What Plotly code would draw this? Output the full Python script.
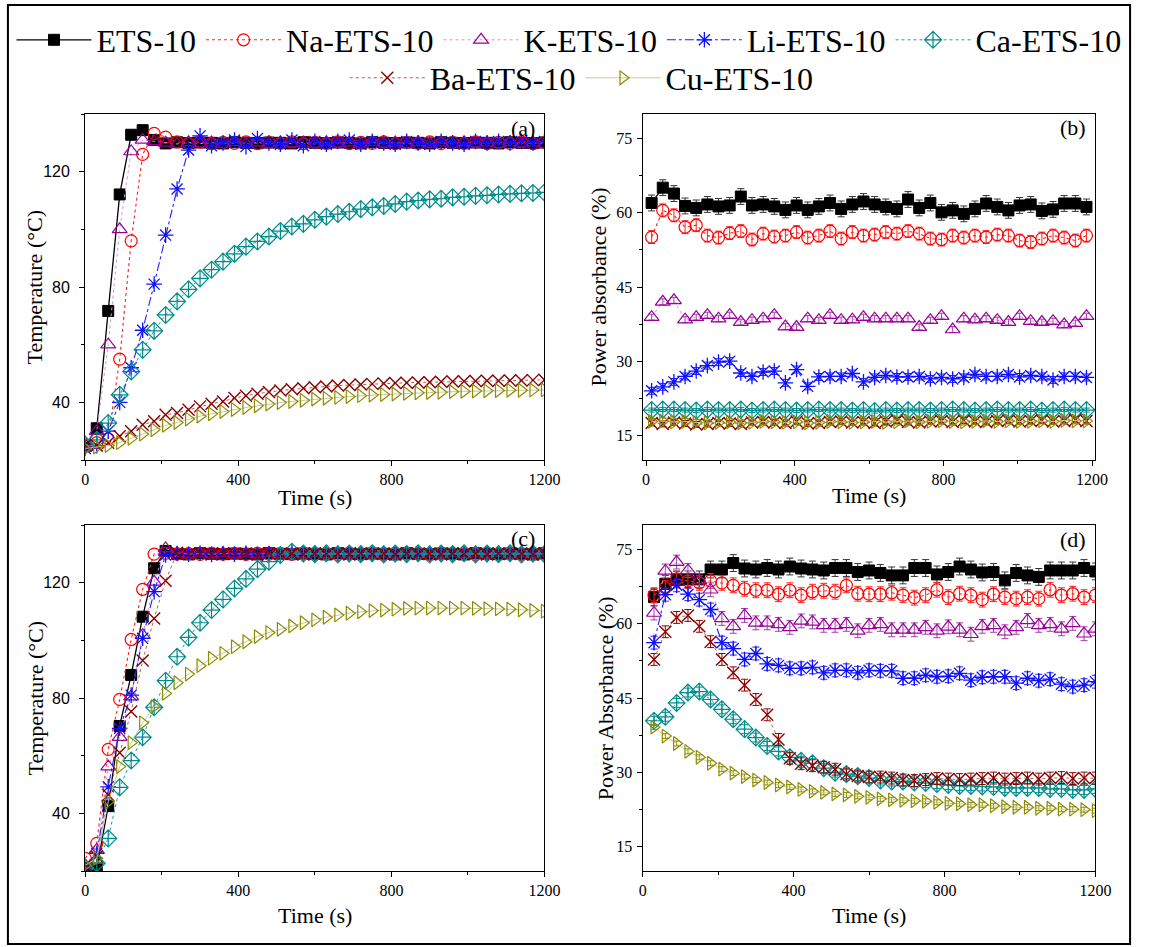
import plotly.graph_objects as go

W, H = 1150, 947

# ---------------- data ----------------
names = ["ETS-10", "Na-ETS-10", "K-ETS-10", "Li-ETS-10", "Ca-ETS-10", "Ba-ETS-10", "Cu-ETS-10"]

t_a = list(range(0, 1201, 30))      # panel (a) time (s)
t_b = list(range(15, 1200, 30))     # panel (b) time (s)
t_c = list(range(0, 1201, 30))      # panel (c) time (s)
t_d = list(range(30, 1201, 30))     # panel (d) time (s)

# (a) temperature
ets_a = [25.0, 31.0, 71.7, 112.1, 132.8, 134.4, 131.0, 129.8, 130.2, 129.9, 130.1, 130.0, 129.8, 130.2, 130.0, 129.9, 130.1, 130.0, 129.8, 130.2, 130.0, 129.9, 130.1, 130.0, 129.8, 130.2, 130.0, 129.9, 130.1, 130.0, 129.8, 130.2, 130.0, 129.9, 130.1, 130.0, 129.8, 130.2, 130.0, 129.9, 130.1]
na_a = [25.0, 26.0, 27.3, 55.0, 96.0, 126.0, 133.3, 132.0, 130.3, 129.8, 130.3, 129.7, 130.2, 129.8, 130.3, 129.7, 130.2, 129.8, 130.3, 129.7, 130.2, 129.8, 130.3, 129.7, 130.2, 129.8, 130.3, 129.7, 130.2, 129.8, 130.3, 129.7, 130.2, 129.8, 130.3, 129.7, 130.2, 129.8, 130.3, 129.7, 130.2]
k_a = [26.0, 30.0, 60.0, 100.0, 127.0, 131.0, 130.5, 130.0, 129.6, 130.2, 129.7, 130.1, 129.6, 130.2, 129.7, 130.1, 129.6, 130.2, 129.7, 130.1, 129.6, 130.2, 129.7, 130.1, 129.6, 130.2, 129.7, 130.1, 129.6, 130.2, 129.7, 130.1, 129.6, 130.2, 129.7, 130.1, 129.6, 130.2, 129.7, 130.1, 129.6]
li_a = [24.0, 25.0, 30.0, 40.0, 52.0, 65.0, 81.0, 98.0, 114.0, 127.5, 132.4, 129.0, 130.0, 131.0, 128.7, 131.5, 130.0, 129.5, 131.0, 129.0, 130.5, 129.5, 130.5, 131.0, 129.5, 130.5, 130.0, 129.5, 130.5, 130.0, 129.5, 130.5, 130.0, 129.5, 130.5, 130.0, 130.5, 130.0, 130.5, 130.0, 130.5]
ca_a = [25.0, 27.0, 32.8, 42.6, 50.7, 58.2, 64.8, 70.3, 75.0, 79.2, 83.0, 86.0, 88.8, 91.5, 94.0, 95.8, 97.5, 99.4, 101.0, 101.9, 103.3, 104.4, 105.3, 106.1, 107.0, 107.6, 108.1, 108.8, 109.6, 110.0, 110.4, 110.6, 111.1, 111.3, 111.6, 111.8, 112.1, 112.3, 112.5, 112.6, 112.8]
ba_a = [25.0, 25.0, 26.0, 28.2, 30.0, 32.2, 33.4, 35.7, 36.3, 37.4, 38.6, 39.5, 40.3, 41.5, 42.3, 43.0, 43.6, 44.1, 44.5, 44.9, 45.2, 45.5, 45.8, 46.0, 46.2, 46.4, 46.5, 46.7, 46.8, 46.9, 47.0, 47.1, 47.2, 47.3, 47.4, 47.5, 47.5, 47.6, 47.6, 47.7, 47.8]
cu_a = [24.0, 24.5, 25.0, 26.0, 27.5, 29.0, 30.5, 32.0, 33.0, 34.2, 35.2, 36.0, 36.8, 37.5, 38.2, 38.8, 39.4, 39.9, 40.3, 40.7, 41.1, 41.4, 41.7, 42.0, 42.3, 42.5, 42.7, 42.9, 43.1, 43.3, 43.4, 43.5, 43.7, 43.8, 43.9, 44.0, 44.1, 44.2, 44.2, 44.3, 44.3]

# (b) power absorbance (%)
ets_b = [62.0, 65.1, 63.9, 61.4, 61.0, 61.7, 61.3, 61.5, 63.3, 61.5, 61.7, 61.3, 60.6, 61.5, 60.6, 61.3, 62.0, 60.8, 61.7, 62.3, 61.7, 61.2, 60.8, 62.7, 61.0, 62.0, 60.1, 60.5, 59.8, 60.8, 61.9, 61.2, 60.5, 61.5, 61.7, 60.4, 60.7, 61.9, 61.9, 61.2]
na_b = [55.1, 60.5, 59.5, 57.1, 57.5, 55.4, 55.0, 55.9, 56.3, 54.6, 55.8, 55.2, 55.4, 56.1, 55.0, 55.4, 56.3, 54.8, 56.1, 55.4, 55.6, 56.1, 55.8, 56.3, 55.8, 54.8, 54.6, 55.4, 55.0, 55.4, 55.1, 55.6, 55.4, 54.4, 54.1, 54.8, 55.4, 55.0, 54.4, 55.4]
k_b = [38.9, 42.0, 42.3, 38.4, 38.9, 39.3, 38.6, 39.3, 37.9, 38.3, 38.6, 39.3, 37.0, 36.9, 38.6, 38.3, 39.3, 38.3, 38.4, 38.9, 38.6, 38.6, 38.6, 38.6, 36.9, 38.3, 39.1, 36.4, 38.6, 38.4, 38.6, 38.3, 37.9, 39.1, 38.1, 37.9, 38.1, 37.4, 37.7, 39.1]
li_b = [24.0, 24.8, 25.8, 26.9, 28.0, 29.1, 29.8, 30.0, 27.6, 26.9, 27.8, 28.0, 25.6, 28.3, 24.9, 26.8, 26.9, 26.9, 27.5, 25.8, 26.7, 27.1, 26.8, 26.8, 26.9, 26.4, 26.7, 26.4, 26.7, 27.3, 26.9, 26.9, 27.3, 26.8, 27.1, 26.9, 26.2, 26.9, 26.9, 26.7]
ca_b = [20.1, 20.2, 20.2, 20.1, 20.0, 20.2, 20.1, 20.1, 20.2, 20.0, 20.1, 20.2, 20.1, 20.0, 20.1, 20.2, 20.1, 20.1, 20.0, 20.1, 19.9, 20.1, 20.0, 20.1, 20.1, 20.0, 20.1, 20.2, 20.1, 20.0, 20.1, 20.2, 20.1, 20.1, 20.2, 20.0, 20.1, 20.2, 20.1, 20.1]
ba_b = [17.5, 17.3, 17.6, 17.4, 17.2, 17.3, 17.5, 17.4, 17.3, 17.6, 17.7, 17.6, 17.5, 17.8, 17.4, 17.5, 17.7, 17.8, 17.6, 17.7, 17.5, 17.8, 18.0, 17.7, 17.6, 17.8, 17.9, 17.7, 18.0, 17.8, 17.7, 17.9, 18.0, 17.8, 17.9, 18.0, 17.8, 17.9, 18.1, 17.9]
cu_b = [17.8, 17.9, 17.7, 17.8, 17.6, 17.5, 17.6, 17.7, 17.5, 17.6, 17.8, 17.7, 17.6, 17.7, 17.5, 17.6, 17.8, 17.7, 17.6, 17.7, 17.8, 17.6, 17.7, 17.9, 17.7, 17.8, 17.9, 17.8, 17.7, 17.8, 17.9, 17.8, 17.9, 17.8, 17.8, 17.9, 17.8, 18.0, 17.9, 17.9]
err_b = [1.6, 1.3, 0.6, 0.7, 0.4, 0.6, 0.6]

# (c) temperature
ets_c = [21.0, 20.9, 42.5, 70.3, 88.0, 108.2, 125.0, 131.0, 130.0, 129.8, 130.2, 130.0, 129.9, 130.1, 130.0, 129.8, 130.2, 130.0, 129.9, 130.1, 130.0, 129.8, 130.2, 130.0, 129.9, 130.1, 130.0, 129.8, 130.2, 130.0, 129.9, 130.1, 130.0, 129.8, 130.2, 130.0, 129.9, 130.1, 130.0, 129.8, 130.2]
na_c = [24.4, 29.6, 62.2, 79.5, 100.3, 117.7, 129.9, 130.2, 129.9, 130.1, 129.8, 130.2, 129.9, 130.1, 129.8, 130.2, 129.9, 130.1, 129.8, 130.2, 129.9, 130.1, 129.8, 130.2, 129.9, 130.1, 129.8, 130.2, 129.9, 130.1, 129.8, 130.2, 129.9, 130.1, 129.8, 130.2, 129.9, 130.1, 129.8, 130.2, 129.9]
k_c = [22.0, 27.3, 56.2, 66.4, 80.5, 101.8, 120.3, 131.9, 130.2, 129.8, 130.1, 129.9, 130.2, 129.8, 130.1, 129.9, 130.2, 129.8, 130.1, 129.9, 130.2, 129.8, 130.1, 129.9, 130.2, 129.8, 130.1, 129.9, 130.2, 129.8, 130.1, 129.9, 130.2, 129.8, 130.1, 129.9, 130.2, 129.8, 130.1, 129.9, 130.2]
li_c = [21.0, 26.1, 49.2, 69.5, 81.0, 100.7, 116.9, 129.6, 130.1, 129.9, 130.2, 129.8, 130.1, 129.9, 130.2, 129.8, 130.1, 129.9, 130.2, 129.8, 130.1, 129.9, 130.2, 129.8, 130.1, 129.9, 130.2, 129.8, 130.1, 129.9, 130.2, 129.8, 130.1, 129.9, 130.2, 129.8, 130.1, 129.9, 130.2, 129.8, 130.1]
ca_c = [21.0, 22.7, 31.3, 49.0, 58.3, 66.4, 76.8, 86.0, 94.3, 101.0, 106.1, 110.5, 114.2, 118.0, 121.3, 124.7, 127.3, 129.6, 130.7, 130.1, 129.9, 130.2, 129.8, 130.1, 129.9, 130.2, 129.8, 130.1, 129.9, 130.2, 129.8, 130.1, 129.9, 130.2, 129.8, 130.1, 129.9, 130.2, 129.8, 130.1, 129.9]
ba_c = [22.0, 25.0, 46.4, 61.0, 75.3, 93.0, 107.6, 120.7, 130.4, 129.9, 130.1, 129.8, 130.2, 129.9, 130.1, 129.8, 130.2, 129.9, 130.1, 129.8, 130.2, 129.9, 130.1, 129.8, 130.2, 129.9, 130.1, 129.8, 130.2, 129.9, 130.1, 129.8, 130.2, 129.9, 130.1, 129.8, 130.2, 129.9, 130.1, 129.8, 130.2]
cu_c = [22.0, 24.4, 44.0, 56.2, 64.5, 71.4, 77.0, 81.6, 85.3, 88.3, 91.2, 93.8, 95.5, 97.8, 99.5, 101.3, 102.7, 103.8, 105.0, 106.1, 107.1, 108.0, 108.8, 109.4, 109.9, 110.3, 110.5, 110.8, 111.1, 111.2, 111.2, 111.2, 111.2, 111.2, 111.1, 111.0, 110.9, 110.8, 110.6, 110.4, 110.1]

# (d) power absorbance (%)
ets_d = [65.4, 68.1, 69.0, 69.0, 69.0, 71.0, 71.0, 72.3, 71.2, 71.0, 71.3, 71.0, 71.6, 71.2, 71.0, 70.8, 71.3, 71.3, 70.5, 70.8, 70.3, 69.8, 69.8, 71.3, 71.3, 70.0, 70.5, 71.6, 71.0, 70.4, 70.5, 68.8, 70.3, 69.8, 69.5, 70.8, 70.8, 70.8, 71.3, 70.6]
na_d = [65.8, 67.3, 69.1, 68.7, 68.3, 68.7, 68.3, 67.8, 67.1, 66.8, 66.8, 66.0, 66.8, 65.8, 66.5, 66.7, 66.5, 67.8, 66.1, 66.0, 66.0, 66.3, 65.8, 65.3, 65.8, 66.9, 65.4, 66.1, 65.8, 64.9, 66.0, 65.4, 65.1, 65.4, 65.1, 66.9, 65.8, 66.1, 65.4, 65.8]
k_d = [62.2, 70.7, 72.5, 70.8, 68.8, 66.9, 61.1, 59.5, 61.7, 60.2, 60.2, 59.9, 59.3, 60.6, 60.4, 59.7, 59.7, 59.9, 58.6, 59.7, 59.9, 58.8, 58.8, 58.8, 59.3, 58.6, 59.4, 58.8, 57.9, 59.5, 59.7, 58.4, 59.3, 60.7, 59.7, 59.9, 59.0, 60.1, 58.0, 59.0]
li_d = [56.2, 65.9, 67.8, 66.0, 64.9, 62.9, 56.2, 55.0, 52.8, 54.0, 51.9, 51.6, 51.0, 51.0, 51.2, 50.1, 50.6, 50.6, 50.1, 50.6, 50.5, 50.5, 49.0, 49.0, 49.6, 49.3, 49.4, 50.0, 48.6, 49.2, 49.3, 49.3, 48.0, 49.0, 48.5, 48.8, 47.8, 47.3, 47.6, 48.3]
ca_d = [40.4, 41.2, 44.0, 46.1, 46.3, 44.7, 42.7, 40.7, 38.7, 37.0, 35.3, 34.2, 33.0, 32.3, 31.8, 30.8, 29.9, 29.6, 29.2, 28.8, 28.3, 28.1, 28.1, 27.9, 27.8, 27.6, 27.4, 27.2, 27.2, 27.1, 27.0, 26.8, 26.8, 26.8, 26.8, 26.6, 26.6, 26.4, 26.4, 26.6]
ba_d = [52.8, 58.4, 61.3, 61.7, 59.5, 56.4, 52.8, 50.1, 47.6, 44.7, 41.6, 36.6, 32.8, 31.7, 31.3, 31.0, 30.6, 29.6, 29.2, 29.0, 29.0, 28.8, 28.4, 28.3, 28.5, 28.7, 28.6, 28.5, 28.6, 28.7, 28.8, 28.6, 28.7, 28.8, 28.6, 28.8, 28.9, 28.7, 28.8, 28.8]
cu_d = [39.1, 37.3, 35.8, 34.2, 33.0, 31.8, 30.6, 29.8, 29.1, 28.4, 27.9, 27.4, 27.0, 26.5, 26.1, 25.9, 25.6, 25.4, 25.1, 24.9, 24.6, 24.4, 24.3, 24.2, 24.1, 23.9, 23.7, 23.6, 23.4, 23.4, 23.2, 23.0, 22.9, 22.9, 22.7, 22.7, 22.5, 22.5, 22.4, 22.2]
err_d = [1.7, 1.5, 1.4, 1.3, 0.9, 1.2, 0.5]

# ---------------- styles ----------------
SERIF = "Liberation Serif, Times New Roman, serif"
SANS = "Liberation Sans, Arial, sans-serif"
styles = [
    dict(mc="#000000", lc="#000000", ec="#333333", dash="solid", sym="square", size=11, lw=1.3, mlw=1),
    dict(mc="#FF0000", lc="#FF2020", ec="#FF2020", dash="dot", sym="circle-open", size=12, lw=1.1, mlw=1.2),
    dict(mc="#9A009A", lc="#D890D8", ec="#A040A0", dash="dot", sym="triangle-up-open", size=13, lw=1.0, mlw=1.2),
    dict(mc="#1010FF", lc="#2020FF", ec="#2020FF", dash="dashdot", sym="asterisk-open", size=13, lw=1.1, mlw=1.3),
    dict(mc="#008C8C", lc="#209C9C", ec="#008C8C", dash="dot", sym="diamond-cross-open", size=13, lw=1.0, mlw=1.2),
    dict(mc="#8B0000", lc="#B06060", ec="#8B0000", dash="dot", sym="x-thin-open", size=12, lw=1.0, mlw=1.4),
    dict(mc="#8C8C00", lc="#CACA98", ec="#8C8C00", dash="solid", sym="triangle-right-open", size=12, lw=1.0, mlw=1.2),
]

panels = [
    dict(key="a", xa="x", ya="y", t=t_a, ys=[ets_a, na_a, k_a, li_a, ca_a, ba_a, cu_a], err=None),
    dict(key="b", xa="x2", ya="y2", t=t_b, ys=[ets_b, na_b, k_b, li_b, ca_b, ba_b, cu_b], err=err_b),
    dict(key="c", xa="x3", ya="y3", t=t_c, ys=[ets_c, na_c, k_c, li_c, ca_c, ba_c, cu_c], err=None),
    dict(key="d", xa="x4", ya="y4", t=t_d, ys=[ets_d, na_d, k_d, li_d, ca_d, ba_d, cu_d], err=err_d),
]
for p in panels:
    for ys in p["ys"]:
        assert len(ys) == len(p["t"]), (p["key"], len(ys))

fig = go.Figure()
for p in panels:
    for i, (nm, st, ys) in enumerate(zip(names, styles, p["ys"])):
        tr = dict(
            x=p["t"], y=ys, name=nm, mode="lines+markers",
            xaxis=p["xa"], yaxis=p["ya"],
            line=dict(color=st["lc"], dash=st["dash"], width=st["lw"]),
            marker=dict(symbol=st["sym"], size=st["size"], color=st["mc"],
                        line=dict(color=st["mc"], width=st["mlw"])),
            showlegend=(p["key"] == "a"),
            legend=("legend" if i < 5 else "legend2"),
        )
        if p["err"] is not None:
            tr["error_y"] = dict(type="constant", value=p["err"][i], color=st["ec"],
                                 thickness=1, width=3.5)
        fig.add_trace(go.Scatter(**tr))

# ---------------- layout geometry (pixels -> paper) ----------------
def px(x):
    return x / W

def py(y):
    return 1 - y / H

XL = [px(82.7), px(550)]
XR = [px(650), px(1110.7)]
YT = [py(460), py(114)]
YB = [py(871), py(525)]

geo = {
    "a": dict(xd=XL, yd=YT, xr=[0, 1200], yr=[20, 140], ydt=40, ymin=20, yfont=SANS),
    "b": dict(xd=XR, yd=YT, xr=[-9, 1209], yr=[10, 80], ydt=15, ymin=7.5, yfont=SERIF),
    "c": dict(xd=XL, yd=YB, xr=[0, 1200], yr=[20, 140], ydt=40, ymin=20, yfont=SANS),
    "d": dict(xd=XR, yd=YB, xr=[0, 1200], yr=[10, 80], ydt=15, ymin=7.5, yfont=SERIF),
}

lay = {}
for n, p in enumerate(panels, start=1):
    g = geo[p["key"]]
    sfx = "" if n == 1 else str(n)
    xname, yname = "xaxis" + sfx, "yaxis" + sfx
    common = dict(showline=True, linecolor="black", linewidth=1.3, mirror=True,
                  ticks="outside", ticklen=5, tickwidth=1, tickcolor="black",
                  showgrid=False, zeroline=False)
    lay[xname] = dict(common, domain=g["xd"], range=g["xr"], anchor="y" + sfx,
                      tick0=0, dtick=400,
                      minor=dict(ticks="outside", ticklen=3, dtick=200, tick0=0, tickcolor="black"),
                      tickfont=dict(family=SERIF, size=16, color="black"))
    lay[yname] = dict(common, domain=g["yd"], range=g["yr"], anchor="x" + sfx,
                      tick0=0, dtick=g["ydt"],
                      minor=dict(ticks="outside", ticklen=3, dtick=g["ymin"], tick0=0, tickcolor="black"),
                      tickfont=dict(family=g["yfont"], size=16, color="black"),
                      ticklabelstandoff=(6 if p["key"] in "ac" else 1))
    # inward ticks on the mirrored (top / right) sides
    m = n + 4
    lay["xaxis" + str(m)] = dict(overlaying="x" + sfx, anchor="y" + sfx, side="top",
                                 range=g["xr"], showline=False, showgrid=False, zeroline=False,
                                 ticks="inside", ticklen=5, tick0=0, dtick=400, showticklabels=False,
                                 tickcolor="black",
                                 minor=dict(ticks="inside", ticklen=3, dtick=200, tick0=0, tickcolor="black"))
    lay["yaxis" + str(m)] = dict(overlaying="y" + sfx, anchor="x" + sfx, side="right",
                                 range=g["yr"], showline=False, showgrid=False, zeroline=False,
                                 ticks="inside", ticklen=5, tick0=0, dtick=g["ydt"], showticklabels=False,
                                 tickcolor="black",
                                 minor=dict(ticks="inside", ticklen=3, dtick=g["ymin"], tick0=0, tickcolor="black"))

fig.update_layout(**lay)

ann = []
# axis titles
title_font = dict(family=SERIF, size=22, color="black")
for (cx, cy, txt, ang) in [
    (316, 497, "Time (s)", 0), (880, 495, "Time (s)", 0),
    (316, 915, "Time (s)", 0), (880, 915, "Time (s)", 0),
    (31, 287, "Temperature (°C)", -90), (605, 287, "Power absorbance (%)", -90),
    (32, 698, "Temperature (°C)", -90), (612, 698, "Power Absorbance (%)", -90),
]:
    ann.append(dict(x=px(cx), y=py(cy), xref="paper", yref="paper", text=txt, showarrow=False,
                    textangle=ang, xanchor="center", yanchor="middle", font=title_font))
# panel labels
for (rx, cy, txt) in [(542, 128, "(a)"), (1103, 127, "(b)"), (542, 538, "(c)"), (1103, 539, "(d)")]:
    ann.append(dict(x=px(rx), y=py(cy), xref="paper", yref="paper", text=txt, showarrow=False,
                    xanchor="right", yanchor="middle", font=dict(family=SERIF, size=22, color="black")))

leg_common = dict(orientation="h", xanchor="center", yanchor="middle",
                  font=dict(family=SERIF, size=32, color="black"),
                  bgcolor="rgba(0,0,0,0)", itemwidth=75, traceorder="normal",
                  tracegroupgap=0)

fig.update_layout(
    width=W, height=H,
    margin=dict(l=0, r=0, t=0, b=0),
    paper_bgcolor="white", plot_bgcolor="white",
    annotations=ann,
    legend=dict(leg_common, x=0.5, y=py(40)),
    legend2=dict(leg_common, x=px(588), y=py(78)),
    shapes=[dict(type="rect", xref="paper", yref="paper",
                 x0=px(4), x1=px(1146), y0=py(944), y1=py(5),
                 line=dict(color="black", width=2), fillcolor="rgba(0,0,0,0)", layer="below")],
)

fig.write_html("out.html")
